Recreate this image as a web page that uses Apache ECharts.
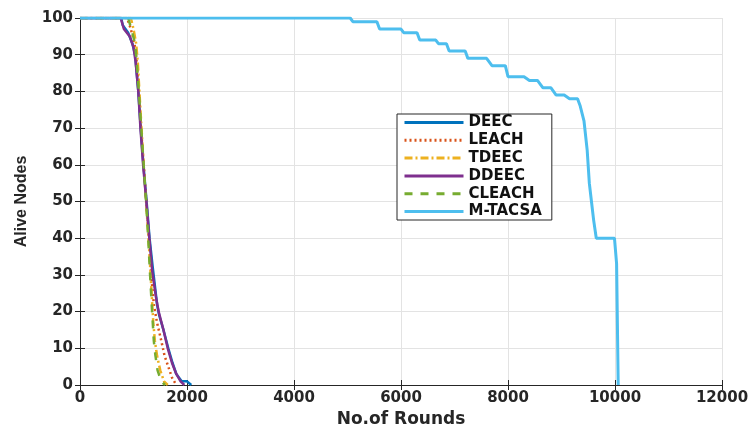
<!DOCTYPE html>
<html>
<head>
<meta charset="utf-8">
<script src="https://cdn.jsdelivr.net/npm/echarts@6/dist/echarts.min.js"></script>
<style>
  html, body { margin: 0; padding: 0; background: #fff; }
  #chart { width: 748px; height: 431px; }
</style>
</head>
<body>
<div id="chart"></div>
<script>
// Alive nodes versus rounds, one [round, aliveNodes] list per protocol
const seriesNames = ['DEEC', 'LEACH', 'TDEEC', 'DDEEC', 'CLEACH', 'M-TACSA'];

const deec = [[0,100],[770,100],[800,98],[900,96],[980,93],[1030,90],[1090,80],[1135,70],[1185,60],[1245,50],[1300,40],[1360,32],[1400,27],[1440,22],[1480,19],[1560,15],[1650,10],[1730,6],[1800,3],[1900,1],[2000,1],[2080,0]];
const leach = [[0,100],[880,100],[950,97],[1020,93],[1060,88],[1100,80],[1140,70],[1190,60],[1240,50],[1290,40],[1330,30],[1380,22],[1440,17],[1520,12],[1580,8],[1650,5],[1720,2],[1800,0]];
const tdeec = [[0,100],[950,100],[1000,97],[1050,93],[1080,88],[1110,80],[1150,70],[1190,60],[1235,50],[1280,40],[1320,30],[1350,22],[1370,17],[1400,12],[1440,8],[1500,4],[1570,1],[1640,0]];
const ddeec = [[0,100],[760,100],[820,97],[930,95],[1000,92],[1040,88],[1090,80],[1130,70],[1180,60],[1240,50],[1295,40],[1350,31],[1420,24],[1470,20],[1560,15],[1640,10],[1720,6],[1800,3],[1880,1],[1950,0]];
const cleach = [[0,100],[900,100],[960,97],[1030,93],[1060,88],[1100,80],[1145,70],[1190,60],[1235,50],[1275,40],[1310,30],[1340,22],[1360,17],[1380,12],[1410,8],[1450,4],[1520,1],[1590,0]];
const mtacsa = [[0,100],[5050,100],[5100,99],[5550,99],[5600,97],[6000,97],[6050,96],[6300,96],[6350,94],[6650,94],[6700,93],[6850,93],[6900,91],[7200,91],[7250,89],[7600,89],[7700,87],[7950,87],[8000,84],[8300,84],[8400,83],[8550,83],[8650,81],[8800,81],[8900,79],[9050,79],[9150,78],[9300,78],[9350,76],[9420,72],[9480,64],[9520,55],[9560,50],[9600,45],[9650,40],[9990,40],[10030,33],[10060,0]];

const xTicks = [0, 2000, 4000, 6000, 8000, 10000, 12000];
const yTicks = [0, 10, 20, 30, 40, 50, 60, 70, 80, 90, 100];

const seriesData = [deec, leach, tdeec, ddeec, cleach, mtacsa];
const colors = ['#0072BD', '#D95319', '#EDB120', '#7E2F8E', '#77AC30', '#4DBEEE'];
const dashes = ['solid', [2, 3], [8, 3, 2, 3], 'solid', [8, 8], 'solid'];

const wideFont = '"DejaVu Sans", Verdana, sans-serif';
const narrowFont = '"Liberation Sans", Arial, sans-serif';
const axisColor = '#262626';
const textColor = '#262626';

const chart = echarts.init(document.getElementById('chart'), null, { renderer: 'canvas' });

const baseX = {
  type: 'value',
  min: xTicks[0],
  max: xTicks[xTicks.length - 1],
  interval: xTicks[1] - xTicks[0],
  axisLine: { show: true, lineStyle: { color: axisColor, width: 1 } },
  axisTick: { show: true, inside: true, length: 5, lineStyle: { color: axisColor } }
};
const baseY = {
  type: 'value',
  min: yTicks[0],
  max: yTicks[yTicks.length - 1],
  interval: yTicks[1] - yTicks[0],
  axisLine: { show: true, lineStyle: { color: axisColor, width: 1 } },
  axisTick: { show: true, inside: true, length: 5, lineStyle: { color: axisColor } }
};

chart.setOption({
  animation: false,
  backgroundColor: '#ffffff',
  grid: { left: 80, right: 26, top: 18, bottom: 46, containLabel: false, outerBoundsMode: 'none' },
  legend: {
    orient: 'vertical',
    left: 397,
    top: 114,
    padding: [1, 10, 1, 6],
    itemWidth: 59,
    itemHeight: 12,
    itemGap: 2.8,
    backgroundColor: '#ffffff',
    borderColor: axisColor,
    borderWidth: 1,
    borderRadius: 0,
    itemStyle: { opacity: 0 },
    lineStyle: { width: 3 },
    data: seriesNames,
    textStyle: { fontFamily: wideFont, fontWeight: 'bold', fontSize: 15, lineHeight: 14, color: '#111' }
  },
  xAxis: [
    Object.assign({}, baseX, {
      position: 'bottom',
      name: 'No.of Rounds',
      nameLocation: 'middle',
      nameGap: 16,
      nameTextStyle: { fontFamily: wideFont, fontWeight: 'bold', fontSize: 17, color: textColor },
      axisLabel: { margin: 6, fontFamily: wideFont, fontWeight: 'bold', fontSize: 15, color: textColor, formatter: v => String(v) },
      splitLine: { show: true, lineStyle: { color: '#e3e3e3', width: 1 } }
    }),
    Object.assign({}, baseX, {
      position: 'top',
      axisLabel: { show: false },
      splitLine: { show: false }
    })
  ],
  yAxis: [
    Object.assign({}, baseY, {
      position: 'left',
      name: 'Alive Nodes',
      nameLocation: 'middle',
      nameGap: 50,
      nameTextStyle: { fontFamily: narrowFont, fontWeight: 'bold', fontSize: 16, color: textColor },
      axisLabel: { margin: 7, fontFamily: wideFont, fontWeight: 'bold', fontSize: 15, color: textColor, formatter: v => String(v) },
      splitLine: { show: true, lineStyle: { color: '#e3e3e3', width: 1 } }
    }),
    Object.assign({}, baseY, {
      position: 'right',
      axisLabel: { show: false },
      splitLine: { show: false }
    })
  ],
  series: seriesNames.map((name, i) => ({
    name: name,
    type: 'line',
    xAxisIndex: 0,
    yAxisIndex: 0,
    data: seriesData[i],
    symbol: 'none',
    z: 2 + i,
    color: colors[i],
    lineStyle: { color: colors[i], width: i === 5 ? 3 : 2.5, type: dashes[i] }
  }))
});
</script>
</body>
</html>
